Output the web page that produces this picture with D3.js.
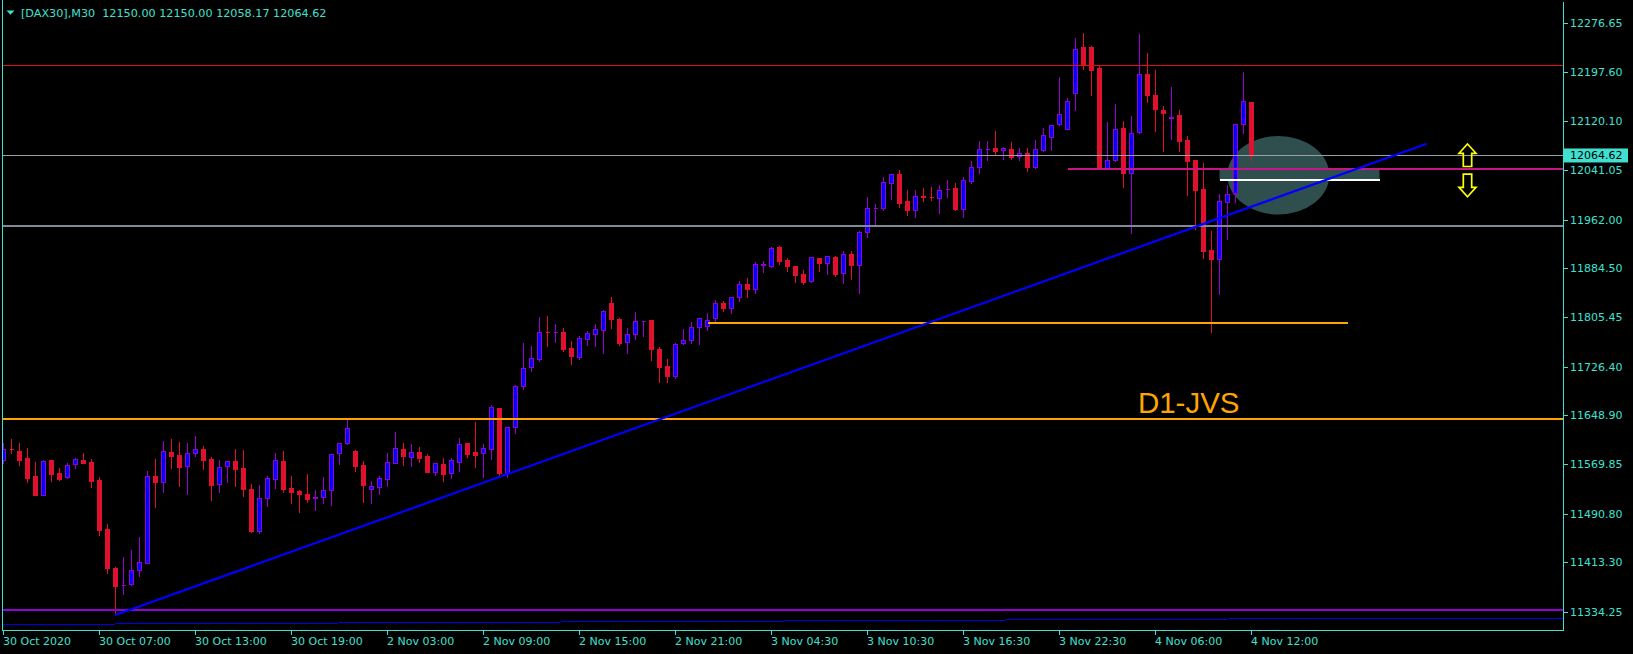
<!DOCTYPE html>
<html><head><meta charset="utf-8">
<script src="https://cdn.jsdelivr.net/npm/d3@7"></script>
<style>
html,body{margin:0;padding:0;background:#000;overflow:hidden;}
svg{display:block;}
text{font-family:"DejaVu Sans",sans-serif;}
</style></head><body>
<svg id="c" width="1633" height="654"></svg>
<script>
// ---------- DATA ----------
const symbol = "[DAX30],M30";
const lastOHLC = [12150.00, 12150.00, 12058.17, 12064.62];
const bidPrice = 12064.62;

const xTickIndex = [0,12,24,36,48,60,72,84,96,108,120,132,144,156];
const xTickLabels = ["30 Oct 2020","30 Oct 07:00","30 Oct 13:00","30 Oct 19:00","2 Nov 03:00","2 Nov 09:00","2 Nov 15:00","2 Nov 21:00","3 Nov 04:30","3 Nov 10:30","3 Nov 16:30","3 Nov 22:30","4 Nov 06:00","4 Nov 12:00"];
const yTickValues = [12276.65,12197.60,12120.10,12041.05,11962.00,11884.50,11805.45,11726.40,11648.90,11569.85,11490.80,11413.30,11334.25];

const opens = [11576.5,11594.5,11591.4,11580.2,11551.3,11521.4,11576.5,11556.1,11549.3,11570.1,
11576.5,11573.8,11544.9,11466.0,11404.0,11377.0,11378.0,11400.3,11412.5,11550.9,
11542.2,11589.3,11584.5,11566.9,11587.7,11594.1,11578.1,11538.0,11566.9,11574.9,
11563.7,11530.0,11462.8,11515.6,11546.0,11574.9,11532.1,11527.3,11522.5,11516.6,
11517.2,11528.4,11588.2,11603.7,11591.4,11569.0,11530.0,11534.2,11546.0,11572.6,
11594.1,11582.2,11589.3,11582.9,11558.2,11570.6,11555.7,11574.2,11603.7,11589.8,
11587.7,11595.0,11659.8,11555.7,11629.3,11695.0,11725.4,11739.2,11782.0,11781.5,
11781.5,11755.8,11742.4,11771.2,11779.2,11784.7,11828.4,11802.8,11765.4,11778.3,
11800.0,11800.7,11754.7,11727.5,11712.0,11763.8,11768.6,11790.4,11791.5,11803.9,
11827.9,11819.9,11837.5,11858.3,11851.3,11889.7,11888.1,11917.6,11897.2,11887.6,
11874.3,11863.1,11900.4,11892.9,11901.6,11875.9,11906.8,11888.8,11941.6,11980.5,
11981.0,12021.0,12035.0,11991.2,11977.8,11999.0,11998.0,11997.0,12010.9,12012.5,
11979.4,12024.2,12046.7,12075.0,12076.6,12072.9,12074.5,12063.3,12068.6,12046.7,
12073.9,12094.7,12115.5,12107.5,12165.2,12237.9,12237.9,12204.2,12044.1,12056.9,
12108.6,12036.1,12101.7,12194.6,12161.0,12137.5,12125.1,12129.0,12088.9,12056.9,
12010.5,11913.3,11899.3,11989.6,12004.1,12114.6,12150.0];
const highs = [11604.7,11610.6,11604.2,11596.2,11573.8,11577.0,11577.0,11563.7,11571.7,11579.7,
11588.2,11578.1,11549.3,11474.5,11405.0,11421.6,11432.8,11453.6,11559.3,11578.6,
11607.4,11610.6,11605.8,11604.2,11615.4,11599.4,11582.2,11577.0,11575.5,11594.6,
11593.0,11538.5,11536.9,11551.3,11588.2,11591.4,11551.3,11528.9,11554.5,11528.9,
11549.3,11586.5,11604.2,11641.0,11593.0,11575.4,11543.3,11551.3,11588.2,11621.8,
11604.2,11602.6,11597.8,11586.6,11572.3,11580.2,11579.7,11612.2,11604.2,11637.8,
11602.6,11664.6,11660.3,11629.8,11696.6,11764.3,11759.5,11806.0,11807.6,11794.8,
11788.3,11767.5,11775.5,11783.5,11794.8,11816.7,11838.0,11804.4,11788.3,11814.0,
11800.3,11801.0,11757.9,11738.7,11764.8,11786.7,11798.0,11804.3,11811.9,11833.2,
11831.6,11838.0,11863.6,11868.4,11893.6,11895.6,11918.1,11919.2,11900.9,11888.0,
11881.2,11902.0,11900.9,11903.6,11903.2,11911.2,11911.2,11943.7,11998.1,11986.9,
12030.2,12035.0,12041.4,12009.3,12009.3,12012.5,12014.6,12017.3,12025.4,12021.0,
12030.6,12055.8,12087.8,12087.8,12103.8,12078.2,12086.2,12076.6,12076.6,12089.4,
12108.6,12113.3,12190.3,12156.2,12252.8,12260.8,12239.9,12207.9,12118.2,12147.1,
12119.8,12127.4,12259.2,12228.7,12201.5,12143.9,12174.3,12137.5,12095.8,12057.3,
12052.1,11943.7,12002.9,12017.3,12115.0,12198.8,12150.0];
const lows = [11571.7,11588.6,11569.4,11542.2,11521.0,11520.5,11543.3,11544.9,11548.8,11564.6,
11572.2,11534.2,11457.3,11396.5,11331.5,11362.9,11377.5,11391.7,11412.0,11502.2,
11526.2,11564.6,11535.8,11523.0,11583.8,11563.0,11513.4,11526.2,11542.2,11535.8,
11519.8,11462.1,11459.6,11503.3,11532.6,11525.7,11508.6,11494.2,11510.2,11497.4,
11508.6,11505.4,11571.0,11602.1,11559.8,11509.7,11508.1,11523.0,11535.8,11571.7,
11569.0,11567.8,11573.8,11557.5,11553.4,11543.8,11548.6,11559.8,11582.2,11566.2,
11550.2,11579.0,11552.5,11549.3,11620.7,11690.2,11720.0,11735.0,11760.0,11766.4,
11751.5,11731.2,11739.2,11761.6,11760.0,11748.8,11788.8,11761.1,11748.8,11771.2,
11776.0,11737.6,11702.4,11702.4,11708.8,11763.3,11764.8,11763.2,11784.7,11798.4,
11815.6,11812.4,11832.1,11838.5,11844.9,11878.5,11886.5,11891.3,11879.1,11862.5,
11859.3,11862.6,11879.1,11875.3,11871.6,11860.9,11866.8,11844.4,11934.1,11952.8,
11976.8,11994.9,11982.1,11969.3,11965.6,11991.7,11993.3,11972.0,11998.1,11977.8,
11965.6,12021.0,12037.0,12057.4,12067.0,12059.5,12059.5,12057.4,12040.2,12045.1,
12072.3,12073.4,12113.4,12106.6,12137.5,12203.6,12161.5,12043.5,12043.5,12056.5,
12014.6,11941.0,12101.2,12150.7,12104.3,12072.3,12090.5,12072.3,12001.8,11946.4,
11900.9,11782.4,11843.3,11930.9,11990.6,12101.1,12058.17];
const closes = [11594.1,11594.0,11577.4,11548.6,11521.4,11575.4,11555.0,11546.5,11568.5,11578.1,
11572.6,11543.8,11465.3,11404.5,11375.7,11377.5,11400.3,11413.1,11550.9,11542.2,
11590.9,11583.8,11566.2,11587.7,11594.1,11577.4,11537.4,11565.3,11574.9,11563.0,
11530.0,11463.3,11515.6,11547.6,11576.5,11531.0,11526.2,11523.0,11515.0,11517.1,
11528.4,11586.1,11603.7,11627.7,11567.8,11536.9,11535.3,11548.1,11573.3,11595.7,
11583.8,11589.3,11580.6,11558.2,11571.7,11555.0,11576.5,11602.1,11587.0,11585.0,
11595.7,11661.4,11556.6,11629.3,11695.0,11723.8,11739.8,11781.5,11781.5,11782.0,
11754.7,11744.0,11771.9,11780.3,11786.3,11815.6,11803.2,11764.3,11778.7,11799.1,
11800.3,11755.2,11726.4,11712.0,11762.2,11769.1,11789.9,11803.9,11800.7,11827.9,
11820.9,11837.5,11858.3,11851.3,11890.4,11890.2,11916.5,11896.1,11888.1,11873.2,
11862.0,11901.6,11892.4,11903.2,11874.8,11906.4,11889.7,11941.6,11980.0,11981.0,
12021.7,12034.5,11988.5,11977.3,11999.2,11998.6,11997.6,12008.9,12011.4,11978.4,
12025.4,12045.7,12074.5,12075.5,12072.3,12076.1,12062.7,12068.1,12046.7,12074.5,
12096.9,12112.9,12130.6,12151.9,12234.7,12209.0,12202.0,12044.1,12056.9,12106.6,
12037.0,12100.1,12194.6,12162.0,12138.6,12132.2,12125.6,12088.3,12056.3,12009.8,
11912.1,11899.3,11991.5,12002.5,12114.6,12151.4,12064.62];

// drawn objects (bar index / price)
const levelRed = 12209.0;
const levelGreyThick = 11951.7;
const levelPurple = 11337.2;
const levelOrangeLong = 11642.6;
const levelMagenta = 12043.0, magentaFrom = 133;
const levelWhite = 12025.35, whiteFrom = 152, whiteTo = 172;
const levelOrangeShort = 11796.35, orangeShortFrom = 88, orangeShortTo = 168;
const trendStart = [13.9, 11328.3], trendEnd = [177.9, 12083.5];
const stepStarts = [-1, 13.9, 41.8, 69.7, 97.5, 125.3, 153.1];
const stepPrices = [11313.85, 11315.45, 11317.05, 11318.65, 11320.25, 11321.85, 11323.45];
const ellipseCenter = [159.35, 12032.9], ellipseRadii = [6.375, 62.9];
const boxFrom = 152, boxTo = 172;
const arrowUp = [183, 12083.0], arrowDown = [183, 11998.6];
const labelText = "D1-JVS", labelAt = [141.8, 11651.7];

// ---------- CHART ----------
const FG = "#40E0D0";
const BULL_BODY = "#0000FF", BULL_WICK = "#9400D3", BEAR = "#E0112E";
const svg = d3.select("#c");
svg.append("rect").attr("width",1633).attr("height",654).attr("fill","#000");

const x = d3.scaleLinear().domain([0,156]).range([3.5,1251.5]);
const y = d3.scaleLinear().domain([11304.7,12310.4]).range([630,2]);
const rightEdge = 1563, bottomEdge = 630;
const xMax = x.invert(rightEdge);

svg.append("clipPath").attr("id","clip").append("rect").attr("x",3).attr("y",0).attr("width",rightEdge-3).attr("height",bottomEdge);
const plot = svg.append("g").attr("clip-path","url(#clip)");

// background objects
plot.append("rect")
  .attr("x", x(boxFrom)).attr("width", x(boxTo)-x(boxFrom))
  .attr("y", y(levelMagenta)).attr("height", y(levelWhite)-y(levelMagenta))
  .attr("fill","#2F4F4F");
plot.append("ellipse")
  .attr("cx", x(ellipseCenter[0])).attr("cy", y(ellipseCenter[1]))
  .attr("rx", x(ellipseCenter[0]+ellipseRadii[0]) - x(ellipseCenter[0]))
  .attr("ry", y(ellipseCenter[1]-ellipseRadii[1]) - y(ellipseCenter[1]))
  .attr("fill","#2F4F4F");

// bottom step line
const stepG = plot.append("g").attr("shape-rendering","crispEdges");
stepStarts.forEach((s,k)=>{
  const e = k < stepStarts.length-1 ? stepStarts[k+1] : xMax+2;
  const yy = Math.round(y(stepPrices[k]))+0.5;
  stepG.append("line").attr("x1",x(s)).attr("x2",x(e)).attr("y1",yy).attr("y2",yy)
    .attr("stroke","#0000E6").attr("stroke-width",1);
});

// candles
const cg = plot.append("g").attr("shape-rendering","crispEdges");
d3.range(opens.length).forEach(i=>{
  const o=opens[i], c=closes[i], h=highs[i], l=lows[i];
  const up = c >= o;
  const col = up ? BULL_WICK : BEAR;
  const cx = x(i);
  cg.append("line").attr("x1",cx).attr("x2",cx)
    .attr("y1",Math.round(y(h))).attr("y2",Math.round(y(l))+1)
    .attr("stroke",col).attr("stroke-width",1);
  const y0 = Math.round(y(Math.max(o,c)))+0.5, y1 = Math.round(y(Math.min(o,c)))+0.5;
  cg.append("path").attr("d",`M${cx-2},${y0}H${cx+2}V${y1}H${cx-2}Z`)
    .attr("fill", up ? BULL_BODY : BEAR).attr("stroke",col).attr("stroke-width",1);
});

// horizontal lines
function hline(price, from, to, color, w){
  const yy = Math.round(y(price)) + (w%2 ? 0.5 : 0);
  plot.append("line").attr("x1",x(from)).attr("x2",x(to)).attr("y1",yy).attr("y2",yy)
    .attr("stroke",color).attr("stroke-width",w).attr("shape-rendering","crispEdges");
}
hline(bidPrice, -1, xMax+2, "#9AA0A6", 1);
hline(levelRed, -1, xMax+2, "#E01010", 1);
hline(levelGreyThick, -1, xMax+2, "#7F8A96", 2);
hline(levelPurple, -1, xMax+2, "#9400D3", 2);
hline(levelOrangeLong, -1, xMax+2, "#FFA500", 2);
hline(levelMagenta, magentaFrom, xMax+2, "#C71585", 2);
hline(levelWhite, whiteFrom, whiteTo, "#FFFFFF", 2);
hline(levelOrangeShort, orangeShortFrom, orangeShortTo, "#FFA500", 2);

// trend line
plot.append("line")
  .attr("x1",x(trendStart[0])).attr("y1",y(trendStart[1]))
  .attr("x2",x(trendEnd[0])).attr("y2",y(trendEnd[1]))
  .attr("stroke","#0000FF").attr("stroke-width",2.2);

// arrows
function arrow(pt, dir){
  const ax = x(pt[0]), ay = y(pt[1]);
  const s = dir; // 1 = up (apex at top), -1 = down
  const p = [[0,0],[8.5,9.3*s],[4.2,9.3*s],[4.2,22.5*s],[-4.2,22.5*s],[-4.2,9.3*s],[-8.5,9.3*s]];
  plot.append("path").attr("d","M"+p.map(q=>(ax+q[0])+","+(ay+q[1])).join("L")+"Z")
    .attr("fill","none").attr("stroke","#FFFF00").attr("stroke-width",1.7).attr("stroke-linejoin","miter");
}
arrow(arrowUp, 1);
arrow(arrowDown, -1);

// label
plot.append("text").attr("x",x(labelAt[0])).attr("y",y(labelAt[1]))
  .attr("fill","#FFA500").style("font-family","'Liberation Sans',Arial,sans-serif")
  .attr("font-size",29.5).text(labelText);

// frame
const fr = svg.append("g").attr("stroke",FG).attr("stroke-width",1).attr("shape-rendering","crispEdges");
fr.append("line").attr("x1",2.5).attr("x2",2.5).attr("y1",0).attr("y2",bottomEdge+1);
fr.append("line").attr("x1",rightEdge+0.5).attr("x2",rightEdge+0.5).attr("y1",2).attr("y2",bottomEdge+1);
fr.append("line").attr("x1",2).attr("x2",rightEdge+1).attr("y1",bottomEdge+0.5).attr("y2",bottomEdge+0.5);

// y axis
yTickValues.forEach(v=>{
  const yy = Math.round(y(v))+0.5;
  fr.append("line").attr("x1",rightEdge+1).attr("x2",rightEdge+5).attr("y1",yy).attr("y2",yy);
  svg.append("text").attr("x",rightEdge+7).attr("y",yy).attr("dy","0.36em")
    .attr("fill",FG).attr("font-size",11).text(v.toFixed(2));
});
// bid label
const by = y(bidPrice);
svg.append("rect").attr("x",rightEdge+1).attr("y",by-7).attr("width",64).attr("height",14).attr("fill",FG);
svg.append("text").attr("x",rightEdge+7).attr("y",by).attr("dy","0.36em")
  .attr("fill","#000").attr("font-size",11).text(bidPrice.toFixed(2));

// x axis
xTickIndex.forEach((ix,k)=>{
  const xx = Math.round(x(ix)-0.5)+0.5;
  fr.append("line").attr("x1",xx).attr("x2",xx).attr("y1",bottomEdge+1).attr("y2",bottomEdge+5);
  svg.append("text").attr("x",xx-0.5).attr("y",645)
    .attr("fill",FG).attr("font-size",11).text(xTickLabels[k]);
});

// header
svg.append("path").attr("d","M6.5,10.5L14.5,10.5L10.5,14.8Z").attr("fill",FG);
svg.append("text").attr("x",21).attr("y",17).attr("fill",FG).attr("font-size",11.2)
  .style("white-space","pre")
  .text(symbol + "  " + lastOHLC.map(d=>d.toFixed(2)).join(" "));
</script>
</body></html>
